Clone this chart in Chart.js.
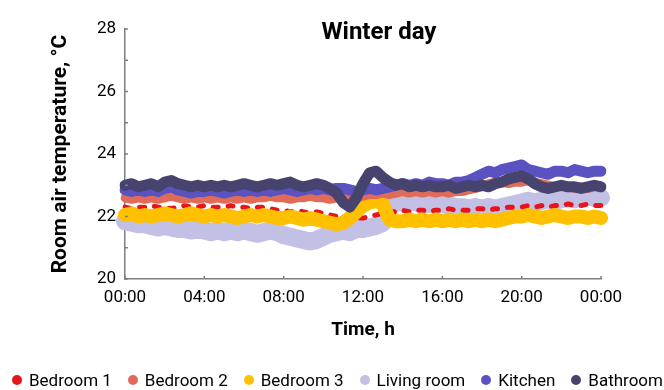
<!DOCTYPE html>
<html>
<head>
<meta charset="utf-8">
<script src="https://cdn.jsdelivr.net/npm/chart.js@4.4.1/dist/chart.umd.min.js"></script>
<style>
  html, body { margin: 0; padding: 0; background: #ffffff; }
  #wrap { position: relative; width: 664px; height: 390px; }
  #legend {
    position: absolute; left: 12px; right: 1px; top: 369px; height: 21px;
    display: flex; justify-content: space-between; align-items: center;
    font-family: Roboto, 'Liberation Sans', sans-serif;
    font-size: 17px; color: #000; white-space: nowrap;
  }
  #legend .item { display: flex; align-items: center; }
  #legend .dot { width: 10px; height: 10px; border-radius: 50%; margin-right: 7px; display: inline-block; }
</style>
</head>
<body>
<div id="wrap">
  <canvas id="c" width="664" height="390"></canvas>
  <div id="legend"></div>
</div>
<script>
const FONT = "Roboto, 'Liberation Sans', sans-serif";

const chartTitle = 'Winter day';
const xTitle = 'Time, h';
const yTitle = 'Room air temperature, °C';

const times = ['00:00','00:20','00:40','01:00','01:20','01:40','02:00','02:20','02:40','03:00','03:20','03:40',
'04:00','04:20','04:40','05:00','05:20','05:40','06:00','06:20','06:40','07:00','07:20','07:40',
'08:00','08:20','08:40','09:00','09:20','09:40','10:00','10:20','10:40','11:00','11:20','11:40',
'12:00','12:20','12:40','13:00','13:20','13:40','14:00','14:20','14:40','15:00','15:20','15:40',
'16:00','16:20','16:40','17:00','17:20','17:40','18:00','18:20','18:40','19:00','19:20','19:40',
'20:00','20:20','20:40','21:00','21:20','21:40','22:00','22:20','22:40','23:00','23:20','23:40','24:00'];

const xTickLabels = ['00:00','04:00','08:00','12:00','16:00','20:00','00:00'];
const yTickLabels = [20, 22, 24, 26, 28];

const seriesNames = ['Bedroom 1','Bedroom 2','Bedroom 3','Living room','Kitchen','Bathroom'];

const bedroom1 = [22.3,22.25,22.3, 22.3,22.35,22.3, 22.3,22.25,22.3, 22.35,22.3,22.3, 22.35,22.3,22.3, 22.3,22.35,22.3,
 22.3,22.25,22.3, 22.3,22.25,22.2, 22.2,22.15,22.2, 22.15,22.1,22.15, 22.1,22.05,22.0, 21.95,21.9,21.95,
 21.95,22.0,22.05, 22.1,22.15,22.15, 22.2,22.15,22.2, 22.2,22.15,22.2, 22.2,22.25,22.2, 22.2,22.2,22.25,
 22.25,22.2,22.25, 22.25,22.3,22.3, 22.3,22.35,22.3, 22.35,22.3,22.35, 22.35,22.4,22.35, 22.35,22.4,22.35, 22.35];

const bedroom2 = [22.6,22.55,22.6, 22.55,22.6,22.55, 22.6,22.65,22.6, 22.55,22.6,22.55, 22.6,22.55,22.6, 22.55,22.6,22.55,
 22.6,22.55,22.6, 22.6,22.65,22.6, 22.6,22.55,22.6, 22.6,22.65,22.6, 22.6,22.55,22.6, 22.6,22.55,22.6,
 22.65,22.7,22.7, 22.75,22.7,22.75, 22.8,22.75,22.8, 22.75,22.8,22.75, 22.8,22.75,22.8, 22.8,22.85,22.9,
 22.95,23.05,23.1, 23.1,23.05,23.1, 23.1,23.15,23.1, 23.05,23.0,22.95, 22.95,22.95,22.9, 22.95,22.9,22.95, 22.95];

const bedroom3 = [22.05,22.1,22.0, 22.05,22.0,22.05, 22.1,22.05,22.0, 22.05,22.1,22.05, 22.0,22.05,22.0, 22.05,22.0,21.95,
 22.0,22.05,22.0, 22.05,22.0,21.95, 21.95,22.0,21.95, 21.9,21.95,21.9, 21.85,21.8,21.75, 21.8,21.95,22.15,
 22.35,22.45,22.5, 22.4,21.9,21.85, 21.85,21.9,21.85, 21.9,21.85,21.9, 21.85,21.9,21.85, 21.9,21.85,21.9,
 21.85,21.9,21.85, 21.9,21.95,22.0, 22.0,22.05,22.0, 21.95,22.0,22.05, 22.0,21.95,22.0, 22.0,21.95,22.0, 21.95];

const livingRoom = [21.85,21.8,21.75, 21.75,21.7,21.65, 21.7,21.65,21.6, 21.6,21.55,21.6, 21.55,21.5,21.55, 21.5,21.55,21.5,
 21.55,21.5,21.45, 21.5,21.55,21.5, 21.4,21.35,21.3, 21.25,21.2,21.25, 21.35,21.45,21.5, 21.55,21.5,21.6,
 21.6,21.65,21.7, 21.8,22.3,22.45, 22.45,22.5,22.45, 22.45,22.4,22.45, 22.4,22.35,22.3, 22.3,22.25,22.3,
 22.25,22.3,22.25, 22.3,22.35,22.4, 22.45,22.5,22.45, 22.5,22.55,22.5, 22.55,22.6,22.55, 22.6,22.65,22.6, 22.6];

const kitchen = [22.85,22.8,22.85, 22.8,22.85,22.8, 22.9,22.95,22.85, 22.8,22.75,22.8, 22.8,22.85,22.8, 22.75,22.8,22.85,
 22.8,22.85,22.8, 22.85,22.8,22.85, 22.9,22.85,22.8, 22.85,22.9,22.85, 22.9,22.85,22.9, 22.9,22.85,22.8,
 22.85,22.9,22.85, 22.9,22.95,23.0, 23.05,23.0,23.05, 23.0,23.1,23.05, 23.05,23.0,23.1, 23.1,23.15,23.25,
 23.35,23.45,23.4, 23.5,23.55,23.6, 23.65,23.5,23.45, 23.4,23.35,23.45, 23.45,23.4,23.5, 23.45,23.4,23.45, 23.45];

const bathroom = [23.0,23.05,22.95, 23.0,23.05,22.95, 23.1,23.15,23.05, 23.0,22.95,23.0, 22.95,23.0,22.95, 23.0,22.95,23.0,
 23.05,23.0,22.95, 23.0,23.05,23.0, 23.05,23.1,23.0, 22.95,23.0,23.05, 23.0,22.9,22.75, 22.45,22.3,22.6,
 23.05,23.4,23.45, 23.25,23.1,23.0, 23.05,22.95,23.0, 22.95,23.0,22.95, 22.95,23.0,22.9, 22.95,23.0,22.95,
 23.0,22.95,23.05, 23.1,23.2,23.25, 23.3,23.2,23.05, 22.95,22.9,22.95, 23.0,22.95,22.95, 22.9,22.95,23.0, 22.95];

const seriesValues = [bedroom1, bedroom2, bedroom3, livingRoom, kitchen, bathroom];
const seriesColors = ['#e8141c', '#e06c58', '#ffc000', '#c2c0e4', '#5b52c2', '#47436f'];
const seriesWidths = [5, 9, 14, 18, 11, 11];
const seriesDash   = [[5, 10], [], [], [], [], []];
const seriesOrder  = [5, 3, 4, 6, 2, 1];

const datasets = seriesNames.map((name, i) => ({
  label: name,
  data: seriesValues[i],
  borderColor: seriesColors[i],
  backgroundColor: seriesColors[i],
  borderWidth: seriesWidths[i],
  borderDash: seriesDash[i],
  borderJoinStyle: 'round',
  borderCapStyle: 'round',
  pointRadius: 0,
  tension: 0,
  order: seriesOrder[i]
}));

const deco = {
  id: 'deco',
  afterDatasetsDraw(chart) {
    const ctx = chart.ctx;
    const xs = chart.scales.x, ys = chart.scales.y;
    const area = chart.chartArea;
    ctx.save();
    ctx.strokeStyle = '#7f7f7f';
    ctx.lineWidth = 1.5;
    ys.ticks.forEach(t => {
      const py = ys.getPixelForValue(t.value);
      ctx.beginPath(); ctx.moveTo(area.left, py); ctx.lineTo(area.left + 3, py); ctx.stroke();
    });
    for (let i = 0; i < times.length; i += 12) {
      const px = xs.getPixelForValue(i);
      ctx.beginPath(); ctx.moveTo(px, area.bottom); ctx.lineTo(px, area.bottom - 3); ctx.stroke();
    }
    ctx.fillStyle = '#000';
    ctx.font = 'bold 24px ' + FONT;
    ctx.textAlign = 'center';
    ctx.textBaseline = 'alphabetic';
    ctx.fillText(chartTitle, 379, 39);
    ctx.restore();
  }
};

new Chart(document.getElementById('c'), {
  type: 'line',
  data: { labels: times, datasets: datasets },
  options: {
    responsive: false,
    animation: false,
    devicePixelRatio: 1,
    layout: { padding: { left: 44, right: 63, top: 29, bottom: 39 } },
    plugins: { legend: { display: false }, tooltip: { enabled: false }, title: { display: false } },
    scales: {
      x: {
        type: 'category',
        offset: false,
        grid: { display: false, drawTicks: false },
        border: { display: true, color: '#7f7f7f', width: 1.5 },
        ticks: {
          autoSkip: false, maxRotation: 0, minRotation: 0, padding: 9,
          color: '#000', font: { family: FONT, size: 17 },
          callback: (v, i) => (i % 12 === 0 ? xTickLabels[i / 12] : '')
        },
        title: { display: true, text: xTitle, color: '#000', font: { family: FONT, size: 19, weight: 'bold' }, padding: { top: 0, bottom: 9 } },
        afterFit: s => { s.height = 72; }
      },
      y: {
        min: 20, max: 28,
        grid: { display: false, drawTicks: false },
        border: { display: true, color: '#7f7f7f', width: 1.5 },
        ticks: {
          stepSize: 1, padding: 9, color: '#000', font: { family: FONT, size: 17 },
          callback: v => (yTickLabels.includes(v) ? String(v) : '')
        },
        title: { display: true, text: yTitle, color: '#000', font: { family: FONT, size: 21, weight: 'bold' }, padding: { top: 4, bottom: 0 } },
        afterFit: s => { s.width = 81; }
      }
    }
  },
  plugins: [deco]
});

const legendEl = document.getElementById('legend');
seriesNames.forEach((name, i) => {
  const item = document.createElement('span');
  item.className = 'item';
  const dot = document.createElement('span');
  dot.className = 'dot';
  dot.style.background = seriesColors[i];
  item.appendChild(dot);
  item.appendChild(document.createTextNode(name));
  legendEl.appendChild(item);
});
</script>
</body>
</html>
